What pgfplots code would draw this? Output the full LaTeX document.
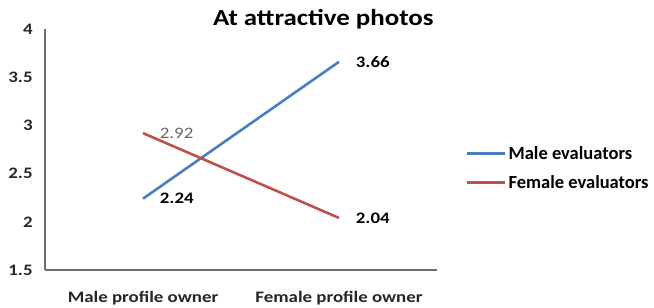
\documentclass[border=0pt]{standalone}
\usepackage{fontspec}
\setmainfont{Carlito}
\usepackage{pgfplots}
\pgfplotsset{compat=1.18}
\definecolor{xlblue}{RGB}{74,126,193}
\definecolor{xlred}{RGB}{192,80,77}
\definecolor{axgray}{RGB}{110,110,110}
\begin{document}
\begin{tikzpicture}[x=1pt,y=1pt]
\useasboundingbox (0,0) rectangle (654,308);
\begin{axis}[
  at={(45pt,38pt)}, anchor=south west,
  scale only axis, width=392pt, height=241pt,
  xmin=-0.5, xmax=1.5, ymin=1.5, ymax=4,
  axis x line=bottom, axis y line=left,
  axis line style={axgray, line width=1.2pt, -},
  xtick={0,1}, xticklabels={Male profile owner, Female profile owner},
  ytick={1.5,2,2.5,3,3.5,4},
  yticklabels={1.5,2,2.5,3,3.5,4},
  major tick length=0pt,
  tick label style={font=\fontsize{16}{18}\selectfont\bfseries, text=black!85, xscale=1.18},
  xticklabel style={anchor=base, yshift=-33pt},
  yticklabel style={xshift=-7pt},
  /pgf/number format/assume math mode=true,
  title={At attractive photos},
  title style={font=\fontsize{23}{26}\selectfont\bfseries, xscale=1.17, at={(axis description cs:0.71,1)}, anchor=base, yshift=-2pt},
  legend style={at={(axis description cs:1.066,0.423)}, anchor=west, draw=none, fill=none,
    font=\fontsize{18.5}{21}\selectfont\bfseries, row sep=11pt},
  legend cell align=left,
  legend image code/.code={\draw[#1, line width=2.6pt] (0pt,0pt) -- (38pt,0pt);},
  clip=false,
]
\addplot[xlblue, line width=2.6pt] coordinates {(0,2.24) (1,3.66)};
\addlegendentry{Male evaluators}
\addplot[xlred, line width=2.6pt] coordinates {(0,2.92) (1,2.04)};
\addlegendentry{Female evaluators}
\node[anchor=west, xscale=1.18, font=\fontsize{16}{18}\selectfont\bfseries] at (axis cs:0.065,2.24) {2.24};
\node[anchor=west, xscale=1.18, font=\fontsize{16}{18}\selectfont, text=black!60] at (axis cs:0.065,2.92) {2.92};
\node[anchor=west, xscale=1.18, font=\fontsize{16}{18}\selectfont\bfseries] at (axis cs:1.065,3.66) {3.66};
\node[anchor=west, xscale=1.18, font=\fontsize{16}{18}\selectfont\bfseries] at (axis cs:1.065,2.04) {2.04};
\end{axis}
\end{tikzpicture}
\end{document}
